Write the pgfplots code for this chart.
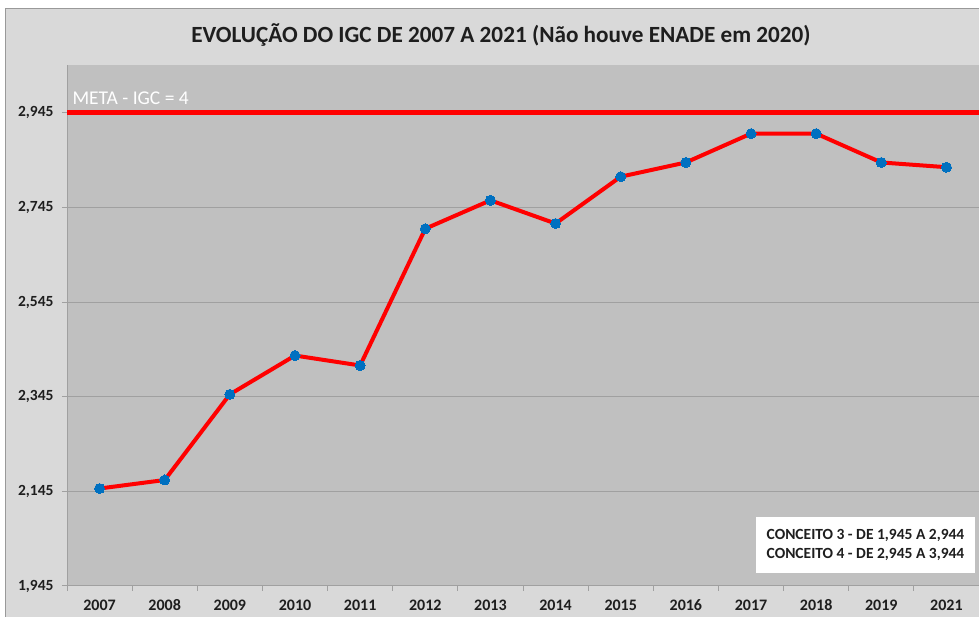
\documentclass[border=0pt]{standalone}
\usepackage{pgfplots}
\pgfplotsset{compat=1.18}
\usepackage{fontspec}
\setmainfont{Carlito}
\definecolor{outerbg}{RGB}{217,217,217}
\definecolor{plotbg}{RGB}{192,192,192}
\definecolor{gridc}{RGB}{160,160,160}
\definecolor{mblue}{RGB}{0,112,192}
\definecolor{lred}{RGB}{255,0,0}
\definecolor{txt}{RGB}{30,30,30}
\begin{document}
\begin{tikzpicture}[x=1pt,y=1pt]
\path[use as bounding box] (0,0) rectangle (979,617);
\fill[white] (0,0) rectangle (979,617);
\fill[outerbg] (5,0) rectangle (979,608);
\draw[gray!80, line width=1pt] (5,0) -- (5,608) -- (979,608);
\node[font=\fontsize{23.2}{27}\selectfont\bfseries, text=txt] at (501,582) {EVOLUÇÃO DO IGC DE 2007 A 2021 (Não houve ENADE em 2020)};
\begin{axis}[
  at={(67pt,31pt)}, anchor=south west,
  scale only axis, width=912pt, height=521pt,
  xmin=-0.5, xmax=13.5, ymin=1.945, ymax=3.046,
  axis background/.style={fill=plotbg},
  axis x line*=bottom, axis y line*=left,
  axis line style={gridc, line width=1pt},
  xtick={0,...,13},
  xticklabels={2007,2008,2009,2010,2011,2012,2013,2014,2015,2016,2017,2018,2019,2021},
  minor xtick={-0.5,0.5,...,13.5},
  major x tick style={draw=none},
  minor x tick style={gridc, line width=1pt},
  minor tick length=5pt,
  ytick={1.945,2.145,2.345,2.545,2.745,2.945},
  yticklabels={{1,945},{2,145},{2,345},{2,545},{2,745},{2,945}},
  major y tick style={gridc, line width=1pt},
  major tick length=5pt,
  tick align=outside,
  ymajorgrids,
  grid style={gridc, line width=1pt},
  /pgf/number format/assume math mode=true,
  xticklabel style={font=\fontsize{16}{18}\selectfont\bfseries, text=txt, yshift=-5pt},
  yticklabel style={font=\fontsize{15.5}{18}\selectfont\bfseries, text=txt, xshift=-5pt},
  clip=false,
]
\addplot[lred, line width=5pt] coordinates {(-0.5,2.945) (13.5,2.945)};
\addplot[lred, line width=4pt, mark=*, mark size=5pt, mark options={fill=mblue, draw=mblue, line width=0pt}] coordinates {
(0,2.151) (1,2.169) (2,2.350) (3,2.432) (4,2.411) (5,2.700) (6,2.760)
(7,2.711) (8,2.810) (9,2.840) (10,2.901) (11,2.901) (12,2.840) (13,2.830)};
\node[anchor=base west, text=white, font=\fontsize{19.5}{22}\selectfont, xshift=2pt, yshift=8pt] at (axis cs:-0.5,2.945) {META - IGC = 4};
\end{axis}
\node[fill=white, minimum width=219pt, minimum height=56pt, align=center, font=\fontsize{15.5}{19}\selectfont\bfseries, text=txt] at (865.5,72) {CONCEITO 3 - DE 1,945 A 2,944\\CONCEITO 4 - DE 2,945 A 3,944};
\end{tikzpicture}
\end{document}
